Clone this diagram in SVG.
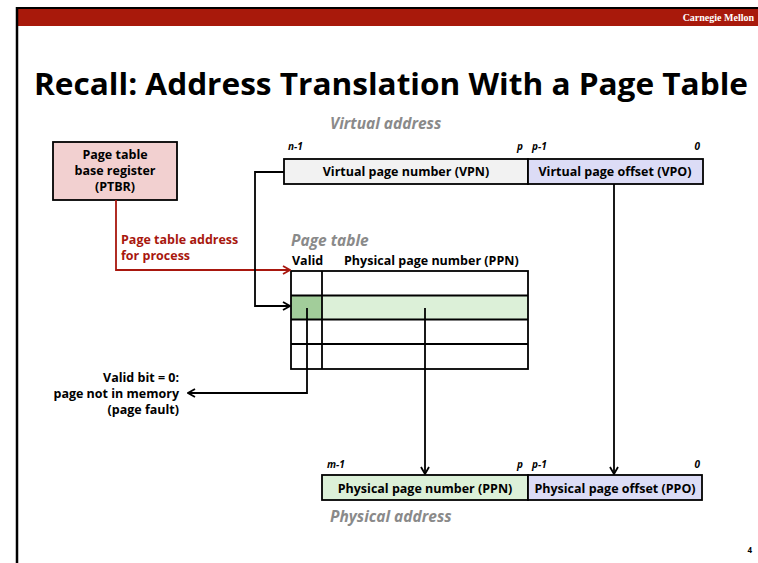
<svg xmlns="http://www.w3.org/2000/svg" width="758" height="563" viewBox="0 0 758 563">
<defs>
<style>
.t{font-family:"Open Sans","Liberation Sans",sans-serif;font-weight:bold;font-size:12.5px;fill:#000}
.c{text-anchor:middle}
.r{text-anchor:end}
.g{font-style:italic;fill:#8a8a8a;font-size:15.5px}
.s{font-style:italic;font-size:10px}
.red{fill:#a8170e}
.box{stroke:#000;stroke-width:1.8}
.ln{fill:none;stroke:#000;stroke-width:1.8}
</style>
<marker id="ak" viewBox="0 0 10 10" refX="9" refY="5" markerWidth="10" markerHeight="10" markerUnits="userSpaceOnUse" orient="auto">
<path d="M2,1 L9,5 L2,9" fill="none" stroke="#000" stroke-width="1.8"/>
</marker>
<marker id="ar" viewBox="0 0 10 10" refX="9" refY="5" markerWidth="10" markerHeight="10" markerUnits="userSpaceOnUse" orient="auto">
<path d="M2,1 L9,5 L2,9" fill="none" stroke="#a8170e" stroke-width="1.8"/>
</marker>
</defs>
<rect width="758" height="563" fill="#fff"/>
<g id="frame">
<rect x="17" y="8" width="741" height="18" fill="#a8190b"/>
<line x1="17" y1="8" x2="758" y2="8" stroke="#000" stroke-width="2"/>
<line x1="17" y1="7" x2="17" y2="563" stroke="#000" stroke-width="2.5"/>
<text x="754" y="21" text-anchor="end" font-family="'Liberation Serif',serif" font-weight="bold" font-size="10" fill="#fff">Carnegie Mellon</text>
<text x="34" y="95" font-family="'Open Sans','Liberation Sans',sans-serif" font-weight="bold" font-size="31" textLength="714" lengthAdjust="spacingAndGlyphs">Recall: Address Translation With a Page Table</text>
<text x="752" y="553" class="t r" style="font-size:8px">4</text>
</g>
<g id="ptbr">
<rect x="53" y="142" width="124" height="58" fill="#f2d0d0" class="box"/>
<text x="115" y="159" class="t c">Page table</text>
<text x="115" y="175" class="t c">base register</text>
<text x="115" y="191" class="t c">(PTBR)</text>
</g>
<g id="virtual-address">
<text x="330" y="129" class="t g">Virtual address</text>
<text x="288" y="150" class="t s">n-1</text>
<text x="523" y="150" class="t s r">p</text>
<text x="532" y="150" class="t s">p-1</text>
<text x="700" y="150" class="t s r">0</text>
<rect x="284" y="159" width="244" height="25" fill="#f2f2f2" class="box"/>
<rect x="528" y="159" width="175" height="25" fill="#dcdcf6" class="box"/>
<text x="406" y="176" class="t c">Virtual page number (VPN)</text>
<text x="615" y="176" class="t c">Virtual page offset (VPO)</text>
</g>
<g id="page-table">
<text x="291" y="246" class="t g">Page table</text>
<text x="292" y="265" class="t">Valid</text>
<text x="344" y="265" class="t">Physical page number (PPN)</text>
<rect x="322" y="295" width="206" height="24.5" fill="#dcf0d8"/>
<rect x="291" y="295" width="31" height="24.5" fill="#a2cd9a"/>
<rect x="291" y="271" width="237" height="98" fill="none" class="box"/>
<path d="M291,295.5H528M291,319.5H528M291,344H528M322,271V369" class="ln"/>
</g>
<g id="physical-address">
<text x="327" y="468" class="t s">m-1</text>
<text x="523" y="468" class="t s r">p</text>
<text x="532" y="468" class="t s">p-1</text>
<text x="700" y="468" class="t s r">0</text>
<rect x="322" y="475" width="206" height="25" fill="#dcf0d8" class="box"/>
<rect x="528" y="475" width="174" height="25" fill="#dcdcf6" class="box"/>
<text x="425" y="493" class="t c">Physical page number (PPN)</text>
<text x="615" y="493" class="t c">Physical page offset (PPO)</text>
<text x="330" y="522" class="t g">Physical address</text>
</g>
<g id="fault-label">
<text x="179" y="382" class="t r">Valid bit = 0:</text>
<text x="179" y="398" class="t r">page not in memory</text>
<text x="179" y="414" class="t r">(page fault)</text>
</g>
<g id="ptbr-label">
<text x="121" y="244" class="t red">Page table address</text>
<text x="121" y="260" class="t red">for process</text>
</g>
<g id="connectors">
<path d="M116,200V270H290" fill="none" stroke="#a8170e" stroke-width="1.8" marker-end="url(#ar)"/>
<path d="M284,172H255V306H290" class="ln" marker-end="url(#ak)"/>
<path d="M307,308V393H188" class="ln" marker-end="url(#ak)"/>
<path d="M425,308V474" class="ln" marker-end="url(#ak)"/>
<path d="M614,184V474" class="ln" marker-end="url(#ak)"/>
</g>
</svg>
